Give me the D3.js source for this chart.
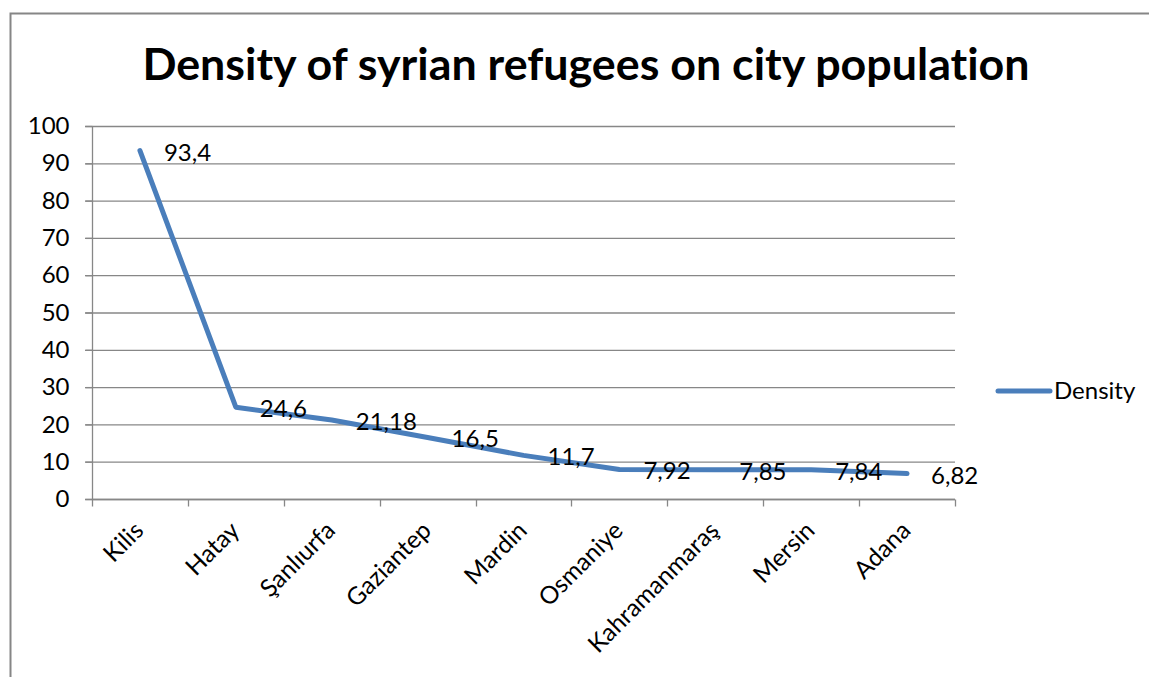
<!DOCTYPE html>
<html><head><meta charset="utf-8">
<script src="https://cdn.jsdelivr.net/npm/d3@7"></script>
<style>body{margin:0;background:#fff;} svg{display:block;font-family:Lato,"Open Sans",sans-serif;font-variant-ligatures:none;}</style>
</head><body>
<svg id="c" width="1149" height="677"></svg>
<script>
const categories = ["Kilis","Hatay","Şanlıurfa","Gaziantep","Mardin","Osmaniye","Kahramanmaraş","Mersin","Adana"];
const densityValues = [93.4, 24.6, 21.18, 16.5, 11.7, 7.92, 7.85, 7.84, 6.82];
const valueLabels = ["93,4","24,6","21,18","16,5","11,7","7,92","7,85","7,84","6,82"];
const yTicks = [0,10,20,30,40,50,60,70,80,90,100];
const seriesName = "Density";
const titleText = "Density of syrian refugees on city population";

const FS = 24;
const svg = d3.select("#c");
svg.append("rect").attr("x",10.5).attr("y",13.5).attr("width",1200).attr("height",800)
  .attr("fill","#fff").attr("stroke","#868686").attr("stroke-width",2);

svg.append("text").attr("x",586).attr("y",80).attr("text-anchor","middle")
  .attr("font-weight","bold").attr("font-size",44.8).attr("fill","#000").text(titleText);

const x = d3.scaleBand().domain(categories).range([92,955]);
const y = d3.scaleLinear().domain([0,100]).range([499,126]);

// grid
svg.append("g").selectAll("line").data(yTicks).join("line")
  .attr("x1",85).attr("x2",955).attr("y1",d=>y(d)+0.5).attr("y2",d=>y(d)+0.5)
  .attr("stroke","#878787").attr("stroke-width",1.3);

// y axis
const ya = svg.append("g").attr("transform","translate(92.5,0)")
  .call(d3.axisLeft(y).tickValues(yTicks).tickSize(7).tickPadding(16));
ya.select(".domain").attr("stroke","#878787").attr("stroke-width",1.3).attr("d","M0,126V499");
ya.selectAll(".tick line").attr("stroke","#878787").attr("stroke-width",1.3);
ya.selectAll(".tick text").attr("font-size",FS).attr("fill","#000").attr("font-family","Lato");

// x axis
const xa = svg.append("g").attr("transform","translate(0,499.5)")
  .call(d3.axisBottom(x).tickSize(0).tickFormat(""));
xa.select(".domain").attr("stroke","#878787").attr("stroke-width",1.3).attr("d","M92,0H955");
xa.selectAll(".tick").remove();
const edges = categories.map(c=>x(c)).concat([x(categories[categories.length-1])+x.bandwidth()]);
xa.selectAll("line.tk").data(edges).join("line").attr("class","tk")
  .attr("x1",d=>Math.round(d)+0.5).attr("x2",d=>Math.round(d)+0.5).attr("y1",0).attr("y2",7)
  .attr("stroke","#878787").attr("stroke-width",1.3);

svg.append("g").selectAll("text").data(categories).join("text")
  .attr("transform",d=>`translate(${x(d)+x.bandwidth()/2+5},${532}) rotate(-45)`)
  .attr("text-anchor","end").attr("font-size",FS+0.5).attr("fill","#000").text(d=>d);

// line
const pts = categories.map((c,i)=>({c, v:densityValues[i], l:valueLabels[i]}));
svg.append("path").datum(pts)
  .attr("d", d3.line().x(d=>x(d.c)+x.bandwidth()/2).y(d=>y(d.v)))
  .attr("fill","none").attr("stroke","#4A7EBB").attr("stroke-width",5).attr("stroke-linecap","round").attr("stroke-linejoin","round");

svg.append("g").selectAll("text").data(pts).join("text")
  .attr("x",d=>x(d.c)+x.bandwidth()/2+24).attr("y",d=>y(d.v)+10)
  .attr("font-size",FS).attr("fill","#000").text(d=>d.l);

// legend
svg.append("line").attr("x1",998).attr("x2",1050).attr("y1",391).attr("y2",391)
  .attr("stroke","#4A7EBB").attr("stroke-width",5).attr("stroke-linecap","round");
svg.append("text").attr("x",1054).attr("y",399).attr("font-size",FS).attr("fill","#000").text(seriesName);
</script>
</body></html>
